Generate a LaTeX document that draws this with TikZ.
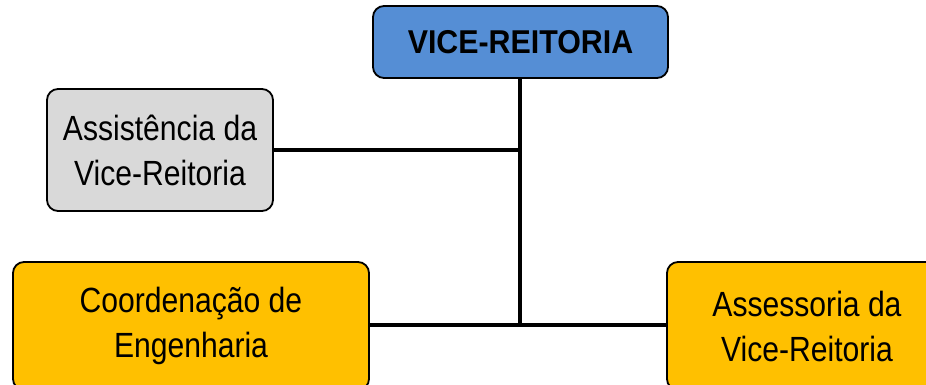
\documentclass[tikz,border=0pt]{standalone}
\usepackage{fontspec}
\setmainfont[FakeStretch=0.86]{Liberation Sans}
\newfontfamily\vrfont[FakeStretch=0.92]{Liberation Sans Bold}
\definecolor{vrblue}{HTML}{558ED5}
\definecolor{boxgray}{HTML}{D9D9D9}
\definecolor{boxgold}{HTML}{FFC000}
\tikzset{
  orgbox/.style={draw=black, line width=1.8pt, rounded corners=11pt, align=center,
    font=\fontsize{35}{45}\selectfont, inner sep=0pt},
  link/.style={draw=black, line width=3.2pt}
}
\begin{document}
\begin{tikzpicture}[x=1pt,y=-1pt]
\useasboundingbox (0,0) rectangle (926,384);
\clip (0,0) rectangle (926,384);
\node[orgbox, fill=vrblue, minimum width=295pt, minimum height=72pt, font=\vrfont\fontsize{33}{36}\selectfont] (vr) at (520.5,42) {VICE-REITORIA};
\node[orgbox, fill=boxgray, minimum width=226pt, minimum height=122pt] (as) at (160,150) {Assistência da\\Vice-Reitoria};
\node[orgbox, fill=boxgold, minimum width=356pt, minimum height=128pt] (ce) at (191,326) {Coordenação de\\Engenharia};
\node[orgbox, fill=boxgold, minimum width=280pt, minimum height=128pt] (ad) at (807,326) {Assessoria da\\Vice-Reitoria};
\coordinate (j1) at (520,150);
\coordinate (j2) at (520,325);
\draw[link] (vr.south -| j2) -- (j2);
\draw[link] (as.east |- j1) -- (j1);
\draw[link] (ce.east |- j2) -- (ad.west |- j2);
\end{tikzpicture}
\end{document}
